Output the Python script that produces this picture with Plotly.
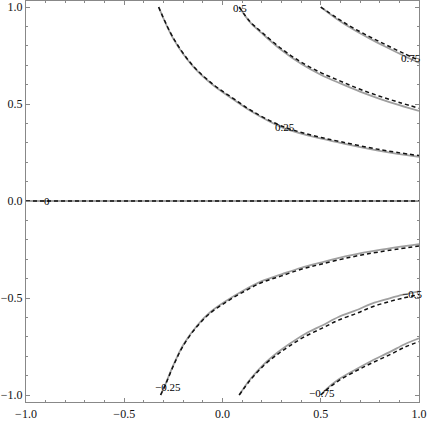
import plotly.graph_objects as go

# contour levels: x samples, solid (gray) and dashed (black) y readings
levels = ["0.25", "0.5", "0.75", "0", "-0.25", "-0.5", "-0.75"]

x_p025 = [-0.325, -0.25, -0.15, -0.05, 0.05, 0.15, 0.3, 0.45, 0.6, 0.8, 1.0]
ys_p025 = [1.0, 0.836, 0.694, 0.599, 0.527, 0.460, 0.381, 0.334, 0.300, 0.259, 0.228]
yd_p025 = [1.0, 0.840, 0.697, 0.603, 0.532, 0.464, 0.387, 0.340, 0.306, 0.265, 0.234]

x_p050 = [0.085, 0.14, 0.2, 0.3, 0.4, 0.5, 0.6, 0.7, 0.8, 0.9, 1.0]
ys_p050 = [1.0, 0.922, 0.865, 0.778, 0.707, 0.651, 0.606, 0.564, 0.527, 0.494, 0.464]
yd_p050 = [1.0, 0.925, 0.870, 0.785, 0.716, 0.662, 0.618, 0.576, 0.540, 0.508, 0.478]

x_p075 = [0.5, 0.58, 0.66, 0.75, 0.83, 0.92, 1.0]
ys_p075 = [1.0, 0.940, 0.888, 0.837, 0.795, 0.750, 0.712]
yd_p075 = [1.0, 0.945, 0.895, 0.846, 0.806, 0.762, 0.725]

x_zero = [-1.0, 1.0]
ys_zero = [0.0, 0.0]
yd_zero = [0.0, 0.0]

x_m025 = [-0.315, -0.29, -0.25, -0.2, -0.13, -0.06, 0.02, 0.1, 0.2, 0.3, 0.4, 0.5, 0.65, 0.8, 1.0]
ys_m025 = [-1.0, -0.944, -0.846, -0.742, -0.643, -0.571, -0.514, -0.465, -0.413, -0.378,
           -0.344, -0.317, -0.280, -0.252, -0.222]
yd_m025 = [-1.0, -0.946, -0.849, -0.746, -0.647, -0.576, -0.520, -0.472, -0.420, -0.386,
           -0.352, -0.326, -0.290, -0.262, -0.232]

x_m050 = [0.085, 0.14, 0.21, 0.28, 0.34, 0.42, 0.51, 0.59, 0.68, 0.76, 0.85, 0.92, 1.0]
ys_m050 = [-1.0, -0.920, -0.842, -0.781, -0.737, -0.685, -0.640, -0.598, -0.563, -0.529,
           -0.502, -0.483, -0.466]
yd_m050 = [-1.0, -0.925, -0.848, -0.790, -0.748, -0.698, -0.654, -0.614, -0.580, -0.546,
           -0.518, -0.500, -0.482]

x_m075 = [0.5, 0.53, 0.59, 0.68, 0.76, 0.85, 0.93, 1.0]
ys_m075 = [-1.0, -0.968, -0.920, -0.867, -0.823, -0.779, -0.737, -0.708]
yd_m075 = [-1.0, -0.972, -0.927, -0.876, -0.835, -0.793, -0.752, -0.725]

# contour label text and where it sits
label_text = ["0.5", "0.75", "0.25", "0", "\u22120.25", "\u22120.5", "\u22120.75"]
label_x = [0.087, 0.96, 0.318, -0.895, -0.275, 0.963, 0.508]
label_y = [0.995, 0.736, 0.383, 0.0, -0.957, -0.479, -0.991]

tick_vals = [-1.0, -0.5, 0.0, 0.5, 1.0]

curves = [
    (x_p025, ys_p025, yd_p025),
    (x_p050, ys_p050, yd_p050),
    (x_p075, ys_p075, yd_p075),
    (x_zero, ys_zero, yd_zero),
    (x_m025, ys_m025, yd_m025),
    (x_m050, ys_m050, yd_m050),
    (x_m075, ys_m075, yd_m075),
]

fig = go.Figure()
for xs, ys, yd in curves:
    fig.add_trace(go.Scatter(x=xs, y=ys, mode="lines", line_shape="spline",
                             line=dict(color="#a0a0a0", width=1.8), showlegend=False))
for xs, ys, yd in curves:
    fig.add_trace(go.Scatter(x=xs, y=yd, mode="lines", line_shape="spline",
                             line=dict(color="#111111", width=1.5, dash="4px,3px"),
                             showlegend=False))

for t, lx, ly in zip(label_text, label_x, label_y):
    fig.add_annotation(x=lx, y=ly, text=t, showarrow=False,
                       font=dict(family="Liberation Serif", size=11, color="#000000"))

axis_style = dict(
    showline=True, linecolor="#888888", linewidth=1.2, mirror="allticks",
    ticks="inside", ticklen=4, tickcolor="#888888", tickwidth=1,
    tickvals=tick_vals, tickformat=".1f", automargin=False,
    minor=dict(dtick=0.1, tick0=0, ticks="inside", ticklen=2, tickcolor="#888888"),
    showgrid=False, zeroline=False,
    tickfont=dict(family="Liberation Serif", size=12, color="#111111"),
)

fig.update_layout(
    width=429, height=421,
    margin=dict(l=26, r=10, t=1, b=19),
    template="plotly_white",
    plot_bgcolor="white", paper_bgcolor="white",
    xaxis=dict(range=[-1.0, 1.0], **axis_style),
    yaxis=dict(range=[-1.036, 1.031], **axis_style),
)

# page has a default body margin; drop it so the figure sits at the corner
fig.write_html("out.html", config={"displayModeBar": False},
               post_script="document.body.style.margin='0';")
